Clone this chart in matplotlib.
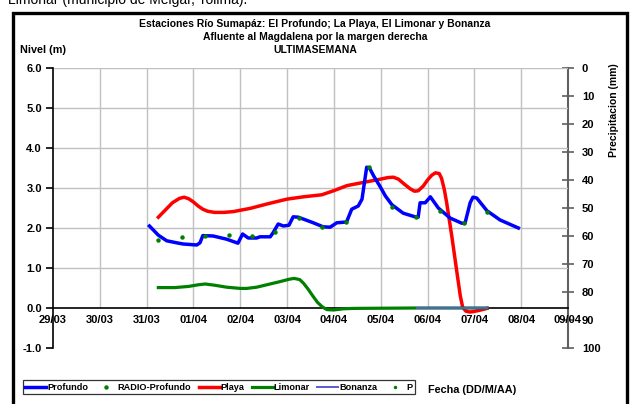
import numpy as np
import matplotlib.pyplot as plt
from matplotlib.patches import Rectangle

plt.rcParams['font.family'] = ['Liberation Sans', 'DejaVu Sans']
plt.rcParams['font.weight'] = 'bold'

# dias contados desde 29/03 00:00
fechas = ['29/03', '30/03', '31/03', '01/04', '02/04', '03/04', '04/04',
          '05/04', '06/04', '07/04', '08/04', '09/04']

t_prof = [2.06, 2.25, 2.43, 2.64, 2.78, 3.07, 3.14, 3.2, 3.42, 3.71, 3.95, 4.05,
          4.17, 4.35, 4.42, 4.64, 4.7, 4.81, 4.92, 5.04, 5.13, 5.24, 5.56, 5.77,
          5.92, 6.06, 6.27, 6.38, 6.52, 6.6, 6.7, 6.76, 6.85, 6.99, 7.1, 7.24,
          7.48, 7.76, 7.8, 7.84, 7.95, 8.06, 8.23, 8.48, 8.73, 8.8, 8.91, 8.97,
          9.05, 9.27, 9.55, 9.94]
h_prof = [2.05, 1.82, 1.68, 1.63, 1.6, 1.575, 1.63, 1.81, 1.8, 1.72, 1.62, 1.85,
          1.75, 1.75, 1.78, 1.78, 1.88, 2.1, 2.05, 2.07, 2.28, 2.27, 2.13, 2.03,
          2.02, 2.13, 2.15, 2.47, 2.55, 2.72, 3.52, 3.5, 3.3, 3.03, 2.8, 2.58,
          2.37, 2.27, 2.27, 2.63, 2.63, 2.78, 2.5, 2.25, 2.12, 2.12, 2.63, 2.77,
          2.75, 2.43, 2.2, 2.0]

t_radio = [2.25, 2.75, 3.25, 3.76, 4.25, 4.74, 5.26, 5.75, 6.26, 6.76, 7.25,
           7.76, 8.27, 8.77, 9.27]
h_radio = [1.7, 1.77, 1.81, 1.83, 1.81, 1.89, 2.24, 2.03, 2.14, 3.52, 2.53,
           2.27, 2.42, 2.12, 2.39]

t_playa = [2.25, 2.4, 2.55, 2.7, 2.8, 2.9, 3.0, 3.1, 3.2, 3.3, 3.45, 3.65,
           3.85, 4.21, 4.57, 4.99, 5.35, 5.74, 5.99, 6.28, 6.63, 6.99, 7.15,
           7.27, 7.38, 7.5, 7.63, 7.72, 7.8, 7.91, 8.0, 8.09, 8.17, 8.25, 8.3,
           8.36, 8.41, 8.52, 8.63, 8.7, 8.75, 8.82, 8.9, 8.98, 9.1, 9.27]
h_playa = [2.27, 2.45, 2.63, 2.74, 2.77, 2.73, 2.65, 2.55, 2.47, 2.42, 2.39,
           2.39, 2.41, 2.49, 2.6, 2.72, 2.78, 2.83, 2.93, 3.06, 3.14, 3.22, 3.26,
           3.27, 3.22, 3.1, 2.98, 2.92, 2.93, 3.05, 3.2, 3.32, 3.38, 3.36, 3.24,
           2.95, 2.62, 1.78, 0.87, 0.3, 0.02, -0.08, -0.1, -0.09, -0.06, -0.01]

t_limon = [2.25, 2.6, 2.9, 3.1, 3.25, 3.45, 3.71, 4.0, 4.14, 4.35, 4.6, 4.85,
           5.05, 5.15, 5.27, 5.35, 5.45, 5.55, 5.65, 5.75, 5.85, 5.99, 6.2,
           6.42, 7.77, 9.27]
h_limon = [0.51, 0.51, 0.54, 0.58, 0.6, 0.57, 0.52, 0.49, 0.49, 0.52, 0.59,
           0.66, 0.72, 0.74, 0.71, 0.62, 0.47, 0.3, 0.14, 0.03, -0.04, -0.05,
           -0.02, -0.01, 0.0, 0.0]

t_bonanza = [7.77, 9.27]
h_bonanza = [0.0, 0.0]

t_p = []
p_mm = []

fig = plt.figure(figsize=(6.3, 4.04), dpi=100)
ax = fig.add_axes([53/630, 1-348/404, 515/630, 280/404])
ax2 = ax.twinx()
ax.set_zorder(2)
ax.patch.set_visible(False)

ax.set_xlim(0, 11)
ax.set_ylim(-1, 6)
ax.hlines(np.arange(1, 7), 0, 11, color='#c0c0c0', lw=1, zorder=0)
ax.vlines(np.arange(1, 11), 0, 6, color='#c0c0c0', lw=1, zorder=0)

ax.plot(t_prof, h_prof, color='#0000ff', lw=2.5, label='Profundo', zorder=4)
ax.plot(t_radio, h_radio, ls='none', marker='o', ms=2.2, color='#008000',
        label='RADIO-Profundo', zorder=5)
ax.plot(t_playa, h_playa, color='#ff0000', lw=2.5, label='Playa', zorder=3)
ax.plot(t_limon, h_limon, color='#008000', lw=2.3, label='Limonar', zorder=3)
ax.plot(t_bonanza, h_bonanza, color='#5a5ad8', lw=1.4, label='Bonanza', zorder=3)
ax.plot(t_p, p_mm, ls='none', marker='o', ms=1.5, color='#008000', label='P')

ax.spines['top'].set_visible(False)
ax.spines['right'].set_visible(False)
ax.spines['bottom'].set_position(('data', 0))
ax.spines['left'].set_linewidth(1.2)
ax.spines['bottom'].set_linewidth(1.2)
ax.set_xticks(np.arange(12))
ax.set_xticklabels(fechas)
ax.set_yticks(np.arange(-1, 7))
ax.set_yticklabels(['%.1f' % v for v in np.arange(-1, 7)])
ax.tick_params(axis='x', length=0, pad=5, labelsize=8)
ax.tick_params(axis='y', length=5, width=1.2, pad=3, labelsize=8)

ax2.set_ylim(100, 0)
ax2.set_yticks(np.arange(0, 101, 10))
for s in ['top', 'left', 'bottom']:
    ax2.spines[s].set_visible(False)
ax2.spines['right'].set_color('#606060')
ax2.spines['right'].set_linewidth(1.5)
ax2.tick_params(axis='y', direction='inout', length=8, width=1.2,
                color='#606060', pad=6, labelsize=8)

fig.text(0.5, 1-24/404, 'Estaciones Río Sumapáz: El Profundo; La Playa, El Limonar y Bonanza',
         ha='center', va='center', fontsize=7.5)
fig.text(0.5, 1-37/404, 'Afluente al Magdalena por la margen derecha',
         ha='center', va='center', fontsize=7.5)
fig.text(0.5, 1-50/404, 'ULTIMASEMANA', ha='center', va='center', fontsize=7.5)
fig.text(20/630, 1-50/404, 'Nivel (m)', ha='left', va='center', fontsize=7.8)
fig.text(614/630, 1-110/404, 'Precipitacion (mm)', rotation=90,
         ha='center', va='center', fontsize=7.5)
fig.text(472/630, 1-390/404, 'Fecha (DD/M/AA)', ha='center', va='center',
         fontsize=7.8)
fig.text(8/630, 1-4/404, 'Limonar (municipio de Melgar, Tolima).',
         ha='left', va='baseline', fontsize=10, fontweight='normal')

fig.patches.append(Rectangle((13/630, -0.05), 614/630, 1.05 - 13/404,
                             transform=fig.transFigure, fill=False,
                             lw=2.4, ec='black'))

leg = fig.legend(loc='lower left', bbox_to_anchor=(23/630, 1-394/404, 392/630, 16/404),
                 mode='expand', ncol=6, fontsize=6.6, frameon=True, fancybox=False,
                 handlelength=2.3, handletextpad=0.1, columnspacing=0.8,
                 borderpad=0.25, borderaxespad=0)
leg.get_frame().set_edgecolor('black')
leg.get_frame().set_linewidth(0.9)

fig.savefig('out.png', dpi=100)
